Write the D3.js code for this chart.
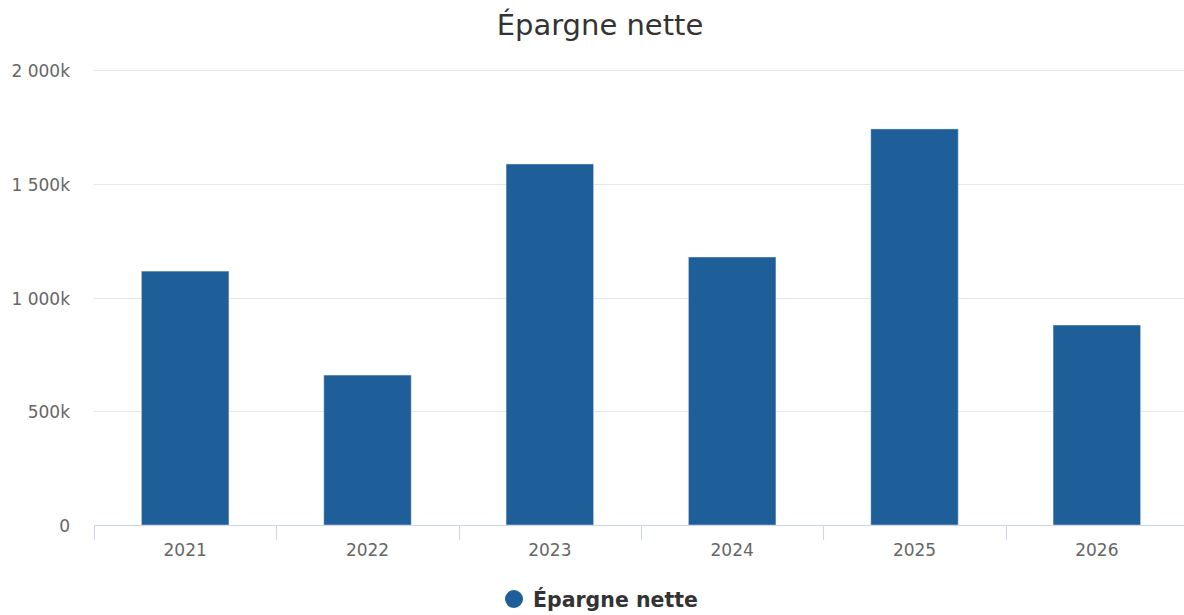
<!DOCTYPE html>
<html>
<head>
<meta charset="utf-8">
<script src="https://cdn.jsdelivr.net/npm/d3@7"></script>
<style>
  body { margin: 0; background: #fff; overflow: hidden; }
  svg { font-family: "DejaVu Sans", sans-serif; }
</style>
</head>
<body>
<div id="chart"></div>
<script>
var years = ["2021", "2022", "2023", "2024", "2025", "2026"];
var epargne = [1116000, 659000, 1587000, 1178000, 1741000, 879000];
var yTicks = [0, 500000, 1000000, 1500000, 2000000];

var svgWidth = 1184;
var svgHeight = 615;

var margin = { top: 70, left: 94, bottom: 90 };
var plotRight = 1188;
var plotBottom = 525;

var svg = d3.select("#chart")
  .append("svg")
  .attr("width", svgWidth)
  .attr("height", svgHeight);

var x = d3.scaleBand()
  .domain(years)
  .range([margin.left, plotRight]);

var y = d3.scaleLinear()
  .domain([0, 2000000])
  .range([plotBottom, margin.top]);

// thousands with a space, then "k"
function fmt(v) {
  if (v === 0) return "0";
  var k = v / 1000;
  return d3.format(",")(k).replace(/,/g, " ") + "k";
}

// grid lines
svg.append("g")
  .selectAll("line")
  .data(yTicks.filter(d => d > 0))
  .enter()
  .append("line")
  .attr("x1", margin.left)
  .attr("x2", plotRight)
  .attr("y1", d => Math.round(y(d)) + 0.5)
  .attr("y2", d => Math.round(y(d)) + 0.5)
  .attr("stroke", "#e6e6e6")
  .attr("stroke-width", 1);

// y labels
svg.append("g")
  .selectAll("text")
  .data(yTicks)
  .enter()
  .append("text")
  .attr("x", 70)
  .attr("y", d => y(d) + 7)
  .attr("text-anchor", "end")
  .attr("fill", "#666666")
  .style("font-size", "17px")
  .text(fmt);

// bars
var groupPad = 0.2, pointPad = 0.1;
var bw = x.bandwidth() * (1 - 2 * groupPad) * (1 - 2 * pointPad);
svg.append("g")
  .selectAll("rect")
  .data(epargne)
  .enter()
  .append("rect")
  .attr("x", (d, i) => x(years[i]) + (x.bandwidth() - bw) / 2)
  .attr("width", bw)
  .attr("y", d => y(d))
  .attr("height", d => plotBottom - y(d))
  .attr("fill", "#1f5f99")
  .attr("stroke", "#ffffff")
  .attr("stroke-opacity", 0.4)
  .attr("stroke-width", 1);

// x axis
var xAxis = svg.append("g")
  .attr("transform", `translate(0, ${plotBottom})`)
  .call(d3.axisBottom(x).tickSize(0).tickPadding(19));
xAxis.select(".domain").remove();
xAxis.append("line")
  .attr("x1", margin.left)
  .attr("x2", plotRight)
  .attr("y1", 0.5)
  .attr("y2", 0.5)
  .attr("stroke", "#ccd6eb");
xAxis.selectAll(".tick text")
  .attr("fill", "#666666")
  .style("font-size", "17px")
  .style("font-family", "DejaVu Sans, sans-serif");

// category boundary ticks
xAxis.append("g")
  .selectAll("line")
  .data(years)
  .enter()
  .append("line")
  .attr("x1", d => Math.round(x(d)) + 0.5)
  .attr("x2", d => Math.round(x(d)) + 0.5)
  .attr("y1", 0)
  .attr("y2", 15)
  .attr("stroke", "#ccd6eb");

// title
svg.append("text")
  .attr("x", 600)
  .attr("y", 35)
  .attr("text-anchor", "middle")
  .attr("fill", "#333333")
  .style("font-size", "29px")
  .text("Épargne nette");

// legend
var legend = svg.append("g");
legend.append("circle")
  .attr("cx", 514)
  .attr("cy", 599)
  .attr("r", 9)
  .attr("fill", "#1f5f99");
legend.append("text")
  .attr("x", 533)
  .attr("y", 607)
  .attr("fill", "#333333")
  .style("font-size", "20.5px")
  .style("font-weight", "bold")
  .text("Épargne nette");
</script>
</body>
</html>
